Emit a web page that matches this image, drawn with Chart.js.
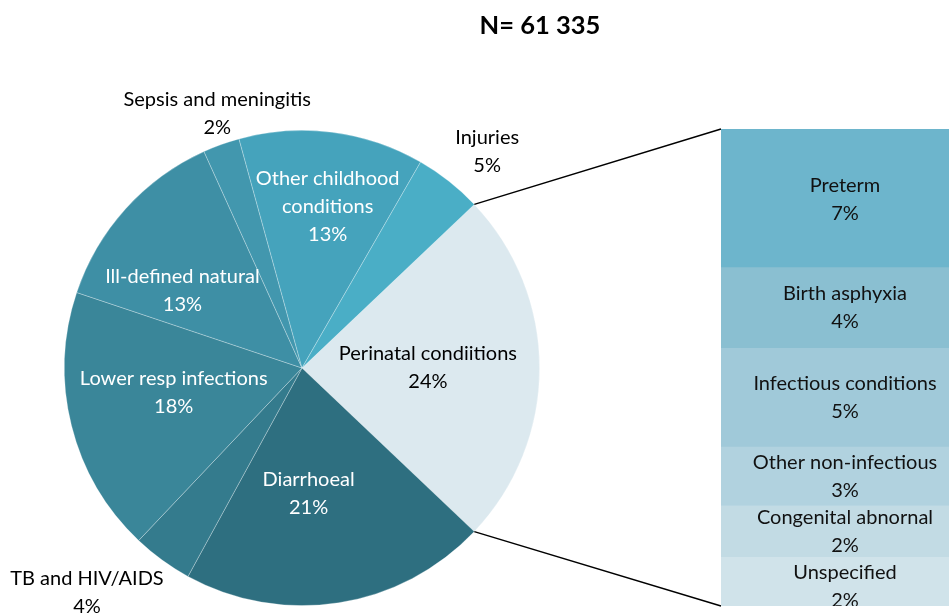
<!DOCTYPE html>
<html>
<head>
<meta charset="utf-8">
<script src="https://cdn.jsdelivr.net/npm/chart.js@4"></script>
<style>
  body { margin: 0; background: #fff; }
  #wrap { position: relative; width: 949px; height: 614px; overflow: hidden; font-family: Lato, sans-serif; }
  #title { position: absolute; left: 440px; width: 200px; top: 9px; text-align: center; font-weight: bold; font-size: 25.5px; color: #000; }
  #pie { position: absolute; left: 0; top: 0; }
  #bar { position: absolute; left: 721px; top: 129px; }
</style>
</head>
<body>
<div id="wrap">
  <canvas id="pie" width="949" height="614"></canvas>
  <canvas id="bar" width="248" height="477"></canvas>
  <div id="title">N= 61 335</div>
</div>
<script>
// main pie: causes of death (percent of N)
const pieLabels = [['Perinatal condiitions'], ['Diarrhoeal'], ['TB and HIV/AIDS'], ['Lower resp infections'],
    ['Ill-defined natural'], ['Sepsis and meningitis'], ['Other childhood', 'conditions'], ['Injuries']];
const pieValues = [24.2, 20.9, 4.1, 18.1, 13.1, 2.5, 12.6, 4.6];
const piePct = ['24%', '21%', '4%', '18%', '13%', '2%', '13%', '5%'];

// breakdown of perinatal conditions
const barLabels = ['Preterm', 'Birth asphyxia', 'Infectious conditions', 'Other non-infectious', 'Congenital abnornal', 'Unspecified'];
const barValues = [7.0, 4.1, 5.0, 3.0, 2.6, 2.5];
const barPct = ['7%', '4%', '5%', '3%', '2%', '2%'];

const pieColors = ['#dce9ef', '#2e6f80', '#347b8d', '#3a8699', '#3e8fa5', '#4297ae', '#45a3bc', '#4aaec6'];
const barColors = ['#6db5cc', '#8abfd1', '#a0c9d9', '#b1d2df', '#c2dbe4', '#d0e3ea'];
// label placement: [angle from east in degrees, distance as fraction of radius]
const labelPolar = [[0, 0.53], [87, 0.53], [133.7, 1.31], [169, 0.55], [213, 0.6], [251.6, 1.13], [279, 0.69], [310.5, 1.2]];
const labelColors = ['#000', '#fff', '#000', '#fff', '#fff', '#000', '#fff', '#000'];
// small vertical nudges for the bar labels (px)
const barLabelShift = [2, 0, 0, 1, 0, 5];

const FONT = '20px Lato, sans-serif';
const LINE_H = 28;

function drawLines(ctx, lines, x, y, color) {
    ctx.save();
    ctx.font = FONT;
    ctx.fillStyle = color;
    ctx.textAlign = 'center';
    ctx.textBaseline = 'middle';
    const top = y - (lines.length - 1) * LINE_H / 2;
    lines.forEach((l, i) => ctx.fillText(l, x, top + i * LINE_H));
    ctx.restore();
}

const barLabelPlugin = {
    id: 'barLabels',
    afterDatasetsDraw(chart) {
        const ctx = chart.ctx;
        chart.data.datasets.forEach((ds, i) => {
            const el = chart.getDatasetMeta(i).data[0];
            drawLines(ctx, [barLabels[i], barPct[i]], el.x, (el.y + el.base) / 2 + barLabelShift[i], '#111');
        });
    }
};

const barTotal = barValues.reduce((a, b) => a + b, 0);
const barChart = new Chart(document.getElementById('bar'), {
    type: 'bar',
    data: {
        labels: [''],
        datasets: barValues.map((v, i) => ({
            label: barLabels[i],
            data: [v],
            backgroundColor: barColors[i],
            borderWidth: 0,
            barPercentage: 1,
            categoryPercentage: 1
        }))
    },
    options: {
        responsive: false,
        animation: false,
        layout: { padding: 0 },
        scales: {
            x: { stacked: true, display: false },
            y: { stacked: true, display: false, reverse: true, min: 0, max: barTotal }
        },
        plugins: { legend: { display: false }, tooltip: { enabled: false } }
    },
    plugins: [barLabelPlugin]
});

const pieLabelPlugin = {
    id: 'pieLabels',
    afterDatasetsDraw(chart) {
        const ctx = chart.ctx;
        const arcs = chart.getDatasetMeta(0).data;
        const cx = arcs[0].x, cy = arcs[0].y, r = arcs[0].outerRadius;

        // connector lines from the perinatal slice to the bar
        const barCanvas = barChart.canvas;
        const area = barChart.chartArea;
        const bx = barCanvas.offsetLeft + area.left;
        const a0 = arcs[0].startAngle, a1 = arcs[0].endAngle;
        ctx.save();
        ctx.strokeStyle = '#000';
        ctx.lineWidth = 1.5;
        ctx.beginPath();
        ctx.moveTo(cx + r * Math.cos(a0), cy + r * Math.sin(a0));
        ctx.lineTo(bx, barCanvas.offsetTop + area.top);
        ctx.moveTo(cx + r * Math.cos(a1), cy + r * Math.sin(a1));
        ctx.lineTo(bx, barCanvas.offsetTop + area.bottom);
        ctx.stroke();
        ctx.restore();

        pieLabels.forEach((lines, i) => {
            const [deg, f] = labelPolar[i];
            const a = deg * Math.PI / 180;
            drawLines(ctx, lines.concat(piePct[i]), cx + f * r * Math.cos(a), cy + f * r * Math.sin(a), labelColors[i]);
        });
    }
};

const pieTotal = pieValues.reduce((a, b) => a + b, 0);
new Chart(document.getElementById('pie'), {
    type: 'pie',
    data: {
        labels: pieLabels.map(l => l.join(' ')),
        datasets: [{
            data: pieValues,
            backgroundColor: pieColors,
            borderColor: 'rgba(255,255,255,0.35)',
            borderWidth: 0.8
        }]
    },
    options: {
        responsive: false,
        animation: false,
        // perinatal slice centred on the right, facing the bar
        rotation: 90 - (pieValues[0] / pieTotal * 360) / 2,
        layout: { padding: { left: 64, right: 409, top: 130, bottom: 8 } },
        plugins: { legend: { display: false }, tooltip: { enabled: false } }
    },
    plugins: [pieLabelPlugin]
});
</script>
</body>
</html>
